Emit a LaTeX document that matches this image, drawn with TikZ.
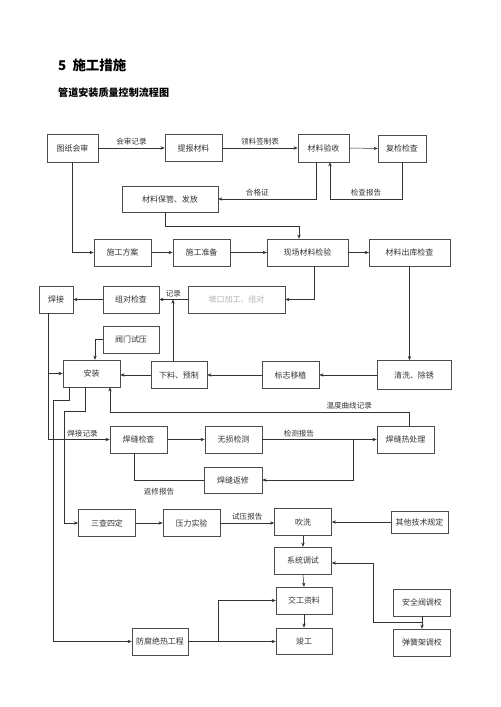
\documentclass[tikz,border=0pt]{standalone}
\usepackage{fontspec}
\newfontfamily\cjk{Noto Sans CJK SC}
\usetikzlibrary{arrows.meta,positioning,calc}
\tikzset{
  box/.style={rectangle,draw=black!70,line width=0.6pt,fill=white,inner sep=1pt,
              font=\cjk\fontsize{9.5}{11}\selectfont,text=black!80,
              minimum width=68pt,minimum height=32pt},
  faintbox/.style={box,text=black!30},
  lab/.style={font=\cjk\fontsize{9}{10}\selectfont,text=black!80,inner sep=1pt},
  arr/.style={-{Stealth[length=5pt,width=4pt]},line width=0.6pt,draw=black!80},
  ln/.style={line width=0.6pt,draw=black!80}
}
\begin{document}
\begin{tikzpicture}[x=1.19pt,y=-1.19pt]
  \useasboundingbox (0,0) rectangle (500,707);

  % headings
  \node[anchor=west,inner sep=0pt,font=\cjk\bfseries\fontsize{16}{18}\selectfont] (ttl)
      at (58,65) {5\ \ 施工措施};
  \node[anchor=west,inner sep=0pt,font=\cjk\bfseries\fontsize{12}{14}\selectfont] (sub)
      at (58,93) {管道安装质量控制流程图};

  % row 1: materials
  \node[box,minimum width=60.7pt,minimum height=33.3pt] (tzhs) at (72.5,148) {图纸会审};
  \node[box] (tbcl) at (193.5,148) {提报材料};
  \node[box,minimum width=60.7pt,minimum height=33.3pt] (clys) at (323.5,148) {材料验收};
  \node[box,minimum width=57pt] (fjjc) at (402,148.5) {复检检查};
  \node[box,minimum width=114pt,minimum height=31pt] (clbg) at (170,199) {材料保管、发放};

  % row 2: preparation
  \node[box] (sgfa) at (122.5,252.5) {施工方案};
  \node[box] (sgzb) at (201.5,252.5) {施工准备};
  \node[box,minimum width=96pt] (xccl) at (307.5,252.5) {现场材料检验};
  \node[box,minimum width=96pt] (clck) at (409.5,252.5) {材料出库检查};

  % row 3: fit-up and welding
  \node[box,minimum width=40.5pt] (hj) at (56,299.5) {焊接};
  \node[box,minimum width=66.6pt] (zdjc) at (131,299.5) {组对检查};
  \node[faintbox,minimum width=115.5pt] (pkjg) at (236.5,299.5) {坡口加工、组对};

  % row 4: installation
  \node[box,minimum width=66.6pt] (fmsy) at (131,339.5) {阀门试压};
  \node[box] (az) at (91.5,373.5) {安装};
  \node[box,minimum width=66.6pt] (xlyz) at (179,375) {下料、预制};
  \node[box] (bzyz) at (290.5,375) {标志移植};
  \node[box,minimum width=88pt,minimum height=34.5pt] (qxcx) at (414,375) {清洗、除锈};

  % row 5: weld inspection
  \node[box] (hfjc) at (138.5,439.5) {焊缝检查};
  \node[box] (wsjc) at (233.5,439.5) {无损检测};
  \node[box] (hfrcl) at (405.5,439.5) {焊缝热处理};
  \node[box,minimum width=69pt,minimum height=31pt] (hffx) at (233,480) {焊缝返修};

  % row 6: testing and handover
  \node[box] (scsd) at (107,523) {三查四定};
  \node[box] (ylsy) at (191.5,523) {压力实验};
  \node[box] (cx) at (303,522) {吹洗};
  \node[box,minimum height=26pt] (qtjs) at (419.5,522) {其他技术规定};
  \node[box] (xtts) at (303,560.5) {系统调试};
  \node[box,minimum width=66.6pt] (jgzl) at (304,600.5) {交工资料};
  \node[box,minimum width=66.6pt,minimum height=31pt] (jg) at (304,641) {竣工};
  \node[box,minimum width=66.6pt] (ffjr) at (160,641.5) {防腐绝热工程};
  \node[box] (aqf) at (422,602.5) {安全阀调校};
  \node[box] (thj) at (422,642.5) {弹簧架调校};

  % helper points
  \coordinate (ysd) at ($(clys.south)+(-7.5,0)$);
  \coordinate (ysu) at ($(clys.south)+(6.5,0)$);
  \coordinate (bgd) at ($(clbg.south)+(-5,0)$);
  \coordinate (ccd) at ($(xccl.south)+(6.5,0)$);
  \coordinate (xlup) at ($(xlyz.north)+(-6,0)$);
  \coordinate (hjd) at ($(hj.south)+(-8,0)$);
  \coordinate (hfd) at ($(hfjc.south)+(-4.5,0)$);
  \coordinate (wsr) at ($(hfrcl.west)+(-23,0)$);
  \coordinate (ffr) at ($(ffjr.east)+(30,0)$);
  \coordinate (jn) at ($(aqf.south)!0.5!(thj.north)$);

  % materials
  \draw[arr] (tzhs.east) -- (tbcl.west)
      node[lab,midway,above=2pt] (l1) {会审记录};
  \draw[arr] (tbcl.east) -- (clys.west)
      node[lab,midway,above=2pt] (l2) {领料签制表};
  \draw[arr] (clys.east) -- (fjjc.west);
  \draw[arr] (fjjc.south) |- node[lab,pos=0.75,above=2pt] (l3) {检查报告}
      (ysu |- clbg.east) -- (ysu);
  \draw[arr] (ysd) |- (clbg.east)
      node[lab,pos=0.8,above=2pt] (l4) {合格证};

  % preparation
  \draw[arr] (tzhs.south) |- (sgfa.west);
  \draw[arr] (sgfa.east) -- (sgzb.west);
  \draw[arr] (sgzb.east) -- (xccl.west);
  \draw[arr] (bgd) -- ++(0,13.5) -| ($(xccl.north)+(-8.5,0)$);
  \draw[arr] (xccl.east) -- (clck.west);
  \draw[arr] (ccd) |- (pkjg.east);
  \draw[arr] (clck.south) -- (clck.south |- qxcx.north);

  % fit-up and welding
  \draw[arr] (pkjg.west) -- (zdjc.east)
      node[lab,midway,above=2pt] (l5) {记录};
  \draw[arr] (xlup) -- (xlup |- zdjc.east);
  \draw[arr] (zdjc.west) -- (hj.east);
  \draw[arr] (hjd) |- (hfjc.west)
      node[lab,pos=0.78,above=2pt] (l6) {焊接记录};
  \draw[arr] (hjd |- az.west) -- (az.west);

  % installation
  \draw[arr] (qxcx.west) -- (bzyz.east);
  \draw[arr] (bzyz.west) -- (xlyz.east);
  \draw[arr] (xlyz.west) -- (xlyz.west -| az.east);
  \draw[arr] (fmsy.west) -| ($(az.north)+(3.5,0)$);
  \draw[arr] ($(hfrcl.north)+(3.5,0)$) -- ++(0,-13.5) -| ($(az.south)+(18.5,0)$)
      node[lab,pos=0.1,above=2pt] (l7) {温度曲线记录};
  \draw[arr] ($(az.south)+(-22.5,0)$) -- ++(0,13) -- ++(-16,0) |- (ffjr.west);
  \draw[arr] ($(az.south)+(-6.5,0)$) -- ++(0,24) -- ++(-21,0) |- (scsd.west);

  % weld inspection
  \draw[arr] (hfjc.east) -- (wsjc.west);
  \draw[arr] (wsjc.east) -- (hfrcl.west)
      node[lab,pos=0.32,above=2pt] (l8) {检测报告};
  \draw[arr] (wsr) |- (hffx.east);
  \draw[ln] (hfd) |- (hffx.west);
  \node[lab] (l9) at (159,492) {返修报告};

  % testing and handover
  \draw[arr] (scsd.east) -- (ylsy.west);
  \draw[arr] (ylsy.east) -- (ylsy.east -| cx.west)
      node[lab,midway,above=2pt] (l10) {试压报告};
  \draw[arr] (qtjs.west) -- (cx.east);
  \draw[arr] (cx.south) -- (xtts.north);
  \draw[arr] (xtts.south) -- (jgzl.north);
  \draw[arr] (jgzl.south) -- (jg.north);
  \draw[arr] (ffjr.east) -- (ffjr.east -| jg.west);
  \draw[arr] (ffr) |- (jgzl.west);
  \draw[arr] (aqf.south) -- (thj.north);
  \draw[arr] (jn) -- ++(-49,0) |- ($(xtts.east)+(0,2.5)$);
\end{tikzpicture}
\end{document}
